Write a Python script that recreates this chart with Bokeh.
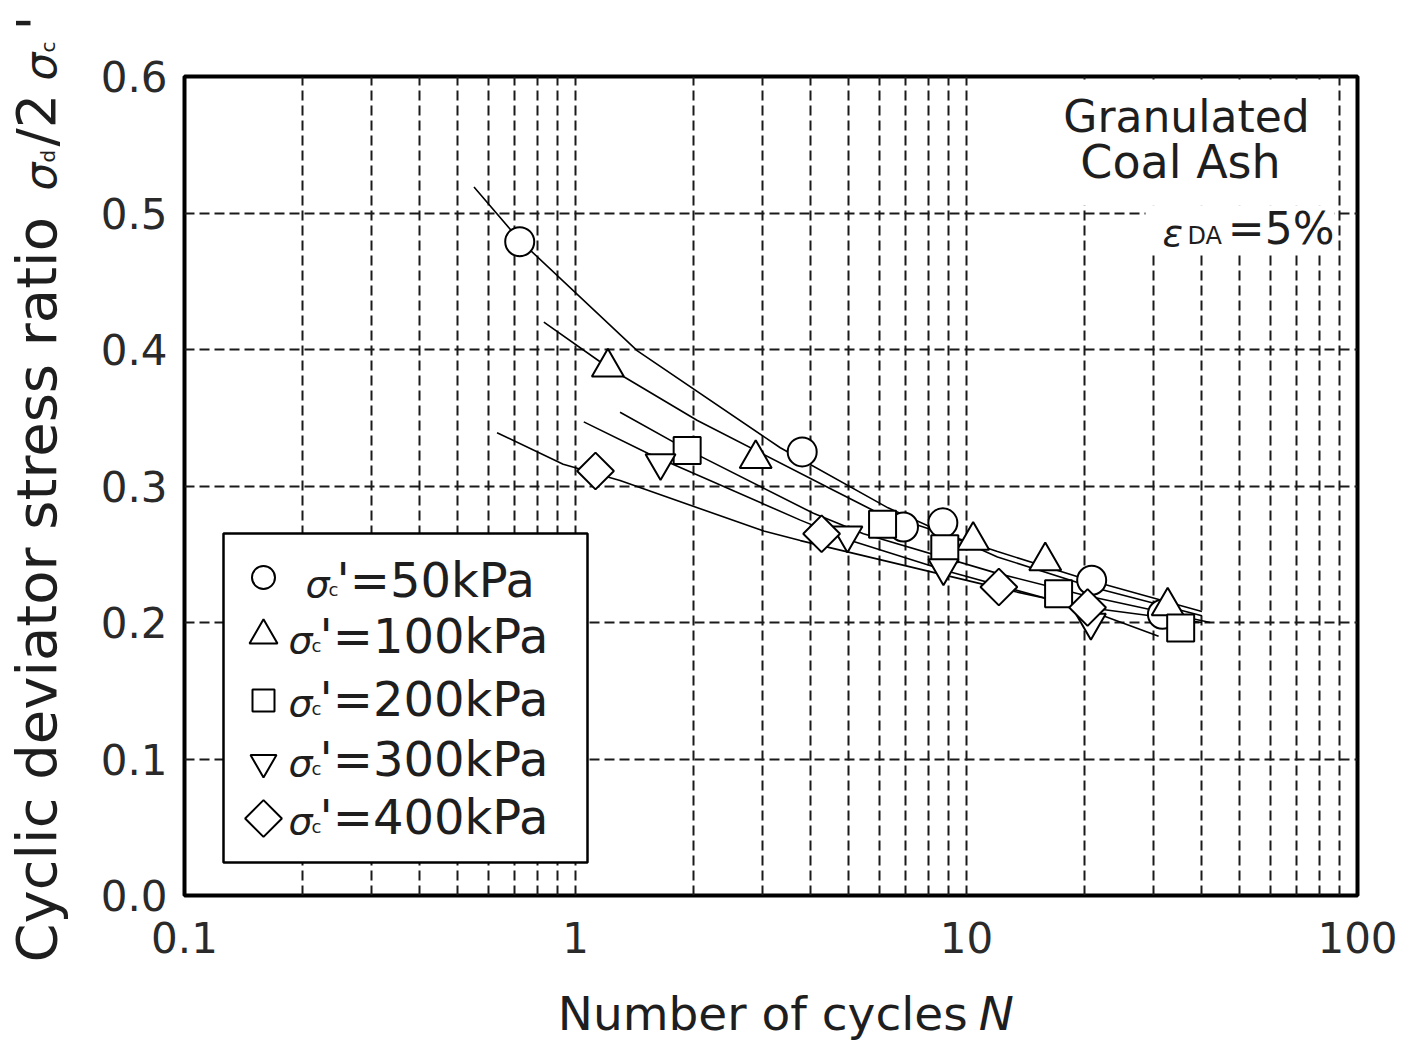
import numpy as np
from bokeh.plotting import figure
from bokeh.layouts import row, column
from bokeh.models import FixedTicker, Label, Range1d, CustomJSTickFormatter
from bokeh.embed import file_html
from bokeh.resources import INLINE

# ---------------- data ----------------
n_50 = [0.72, 3.8, 6.9, 8.7, 20.9, 31.7]
r_50 = [0.479, 0.325, 0.270, 0.273, 0.231, 0.206]
n_100 = [1.21, 2.89, 10.4, 15.9, 32.7]
r_100 = [0.387, 0.320, 0.260, 0.245, 0.212]
n_200 = [1.93, 6.1, 8.8, 17.2, 35.3]
r_200 = [0.326, 0.272, 0.254, 0.221, 0.196]
n_300 = [1.65, 4.96, 8.73, 20.8]
r_300 = [0.317, 0.264, 0.240, 0.200]
n_400 = [1.125, 4.26, 12.1, 20.4]
r_400 = [0.311, 0.265, 0.226, 0.211]

# fitted curves
fit_n_50 = [0.55, 0.72, 1.44, 3.34, 6.3, 12.0, 20.9, 40.0]
fit_r_50 = [0.519, 0.480, 0.399, 0.328, 0.284, 0.248, 0.226, 0.205]
fit_n_100 = [0.83, 1.21, 2.05, 4.49, 5.78, 12.0, 20.0, 40.0]
fit_r_100 = [0.420, 0.387, 0.348, 0.298, 0.282, 0.252, 0.232, 0.208]
fit_n_200 = [1.30, 1.92, 4.06, 5.45, 12.0, 20.0, 42.0]
fit_r_200 = [0.354, 0.327, 0.280, 0.265, 0.236, 0.220, 0.200]
fit_n_300 = [1.05, 1.53, 3.76, 5.05, 9.1, 20.0, 31.0]
fit_r_300 = [0.347, 0.324, 0.275, 0.260, 0.237, 0.210, 0.190]
fit_n_400 = [0.63, 0.93, 1.30, 3.03, 3.76, 12.2, 20.4, 40.0]
fit_r_400 = [0.339, 0.316, 0.304, 0.267, 0.260, 0.225, 0.211, 0.200]

legend_labels = ["50kPa", "100kPa", "200kPa", "300kPa", "400kPa"]
x_ticks = [0.1, 1, 10, 100]
x_minor = [0.2, 0.3, 0.4, 0.5, 0.6, 0.7, 0.8, 0.9,
           2, 3, 4, 5, 6, 7, 8, 9,
           20, 30, 40, 50, 60, 70, 80, 90]
y_ticks = [0.0, 0.1, 0.2, 0.3, 0.4, 0.5, 0.6]

# ---------------- layout (canvas pixels) ----------------
W, H = 1401, 1040
YW = 80            # width of the y-title strip
MH = 973           # height of the main figure
L, R, T, B = 184, 1357, 76, 895
TXT = "#1e1e1e"
FONT = "DejaVu Sans"


def px_x(px):
    return 10 ** ((px - L) / (R - L) * 3 - 1)


def px_y(py):
    return (B - py) / (B - T) * 0.6


p = figure(width=W - YW, height=MH, x_axis_type="log",
           x_range=Range1d(0.1, 100), y_range=Range1d(0, 0.6),
           output_backend="svg", toolbar_location=None,
           min_border_left=L - YW, min_border_right=W - R,
           min_border_top=T, min_border_bottom=MH - B)

p.outline_line_color = "black"
p.outline_line_width = 4

xt = FixedTicker(ticks=x_ticks, minor_ticks=x_minor)
yt = FixedTicker(ticks=y_ticks)
p.xaxis.ticker = xt
p.yaxis.ticker = yt
p.xgrid.ticker = xt
p.ygrid.ticker = yt
p.xaxis.formatter = CustomJSTickFormatter(code="return tick < 1 ? tick.toFixed(1) : tick.toFixed(0);")
p.yaxis.formatter = CustomJSTickFormatter(code="return tick.toFixed(1);")

for ax in (p.xaxis, p.yaxis):
    ax.axis_line_color = None
    ax.major_tick_line_color = None
    ax.minor_tick_line_color = None
    ax.major_tick_out = 0
    ax.major_tick_in = 0
    ax.minor_tick_out = 0
    ax.major_label_text_font = FONT
    ax.major_label_text_font_size = "42px"
    ax.major_label_text_color = "#2a2a2a"
p.xaxis.major_label_standoff = 26
p.yaxis.major_label_standoff = 17

GRID = "#1a1a1a"
p.xgrid.grid_line_color = GRID
p.xgrid.grid_line_width = 2
p.xgrid.grid_line_dash = "10 5"
p.xgrid.minor_grid_line_color = GRID
p.xgrid.minor_grid_line_width = 2
p.xgrid.minor_grid_line_dash = "10 5"
p.ygrid.grid_line_color = GRID
p.ygrid.grid_line_width = 2
p.ygrid.grid_line_dash = "10 5"

# white backgrounds behind top-right annotation
p.quad(left=[px_x(1040)], right=[px_x(1334)], top=[px_y(79)], bottom=[px_y(205)],
       fill_color="white", line_color=None)
p.quad(left=[px_x(1145)], right=[px_x(1334)], top=[px_y(205)], bottom=[px_y(252)],
       fill_color="white", line_color=None)

# fitted lines
for fn, fr in [(fit_n_50, fit_r_50), (fit_n_100, fit_r_100), (fit_n_200, fit_r_200),
               (fit_n_300, fit_r_300), (fit_n_400, fit_r_400)]:
    p.line(fn, fr, line_color="black", line_width=1.6)

mk = dict(fill_color="white", line_color="black", line_width=2)
p.scatter(n_50, r_50, marker="circle", size=29, **mk)
p.scatter(n_100, r_100, marker="triangle", size=32, **mk)
p.scatter(n_200, r_200, marker="square", size=27, **mk)
p.scatter(n_300, r_300, marker="inverted_triangle", size=30, **mk)
p.scatter(n_400, r_400, marker="square", angle=np.pi / 4, size=26, **mk)

# legend box
p.quad(left=[px_x(223)], right=[px_x(587)], top=[px_y(533)], bottom=[px_y(862)],
       fill_color="white", line_color="black", line_width=2.5)

leg_y = [577, 635, 700, 762, 818]
leg_txt = [579, 635, 698, 758, 816]
leg_marker = [("circle", 23, 0), ("triangle", 28, 0), ("square", 22, 0),
              ("inverted_triangle", 26, 0), ("square", 26, np.pi / 4)]
for (m, s, a), yy in zip(leg_marker, leg_y):
    p.scatter([px_x(263)], [px_y(yy)], marker=m, size=s, angle=a, **mk)

for i, (lab, yc) in enumerate(zip(legend_labels, leg_txt)):
    x0 = 305 if i == 0 else 288
    p.add_layout(Label(x=px_x(x0), y=px_y(yc + 4), text="σ", text_font=FONT,
                       text_font_style="italic", text_font_size="38px",
                       text_color=TXT, text_baseline="alphabetic", text_align="left"))
    p.add_layout(Label(x=px_x(x0 + 23), y=px_y(yc + 10), text="c", text_font=FONT,
                       text_font_size="18px", text_color=TXT,
                       text_baseline="alphabetic", text_align="left"))
    p.add_layout(Label(x=px_x(x0 + 31), y=px_y(yc), text="'=" + lab, text_font=FONT,
                       text_font_size="48px", text_color=TXT,
                       text_baseline="alphabetic", text_align="left"))

# top-right annotation
p.add_layout(Label(x=px_x(1186), y=px_y(116), text="Granulated", text_font=FONT,
                   text_font_size="44px", text_color=TXT, text_align="center",
                   text_baseline="alphabetic"))
p.add_layout(Label(x=px_x(1180), y=px_y(161), text="Coal Ash", text_font=FONT,
                   text_font_size="46px", text_color=TXT, text_align="center",
                   text_baseline="alphabetic"))
p.add_layout(Label(x=px_x(1162), y=px_y(232), text="ε", text_font=FONT,
                   text_font_style="italic", text_font_size="38px", text_color=TXT,
                   text_align="left", text_baseline="alphabetic"))
p.add_layout(Label(x=px_x(1187), y=px_y(235), text="DA", text_font=FONT,
                   text_font_size="24px", text_color=TXT, text_align="left",
                   text_baseline="alphabetic"))
p.add_layout(Label(x=px_x(1334), y=px_y(228), text="=5%", text_font=FONT,
                   text_font_size="44px", text_color=TXT, text_align="right",
                   text_baseline="alphabetic"))


def blank(w, h):
    f = figure(width=w, height=h, x_range=Range1d(0, w), y_range=Range1d(0, h),
               x_axis_type=None, y_axis_type=None, output_backend="svg",
               toolbar_location=None, min_border=0, min_border_left=0,
               min_border_right=0, min_border_top=0, min_border_bottom=0)
    f.outline_line_color = None
    f.background_fill_color = "white"
    f.border_fill_color = "white"
    return f


# x-axis title strip (canvas x from YW, canvas y from MH)
xf = blank(W - YW, H - MH)
xf.add_layout(Label(x=962 - YW, y=H - 1013, text="Number of cycles", text_font=FONT,
                    text_font_size="47px", text_color=TXT, text_align="right",
                    text_baseline="alphabetic"))
xf.add_layout(Label(x=1014 - YW, y=H - 1013, text="N", text_font=FONT,
                    text_font_style="italic", text_font_size="47px", text_color=TXT,
                    text_align="right", text_baseline="alphabetic"))

# y-axis title strip (rotated)
yf = blank(YW, H)
rot = dict(angle=np.pi / 2, text_font=FONT, text_color=TXT, text_align="left",
           text_baseline="alphabetic")
yf.add_layout(Label(x=36, y=H - 962, text="Cyclic deviator stress ratio",
                    text_font_size="56px", **rot))
yf.add_layout(Label(x=40, y=H - 190, text="σ", text_font_size="44px",
                    text_font_style="italic", **rot))
yf.add_layout(Label(x=47, y=H - 162, text="d", text_font_size="20px", **rot))
yf.add_layout(Label(x=36, y=H - 146, text="/2", text_font_size="54px", **rot))
yf.add_layout(Label(x=40, y=H - 80, text="σ", text_font_size="44px",
                    text_font_style="italic", **rot))
yf.add_layout(Label(x=47, y=H - 52, text="c", text_font_size="20px", **rot))
yf.add_layout(Label(x=36, y=H - 30, text="'", text_font_size="54px", **rot))

layout = row(yf, column(p, xf))
open("out.html", "w").write(file_html(layout, INLINE))
